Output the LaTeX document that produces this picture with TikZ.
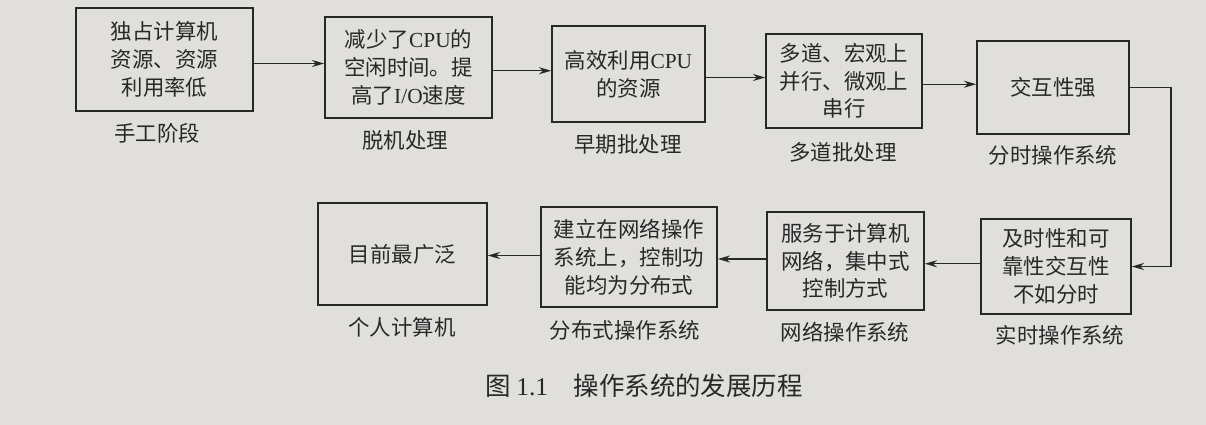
\documentclass[tikz,border=0pt]{standalone}
\usepackage{fontspec}
\setmainfont{Liberation Serif}
\newfontfamily\cjk{Noto Sans CJK SC}
\usepackage{tikz}
\usetikzlibrary{arrows.meta,calc}
\definecolor{paper}{RGB}{224,223,220}
\definecolor{ink}{RGB}{40,40,40}

\begin{document}
\begin{tikzpicture}[x=0.02cm,y=-0.02cm,
  every node/.style={font=\cjk\fontsize{12.2}{15.8}\selectfont,text=ink},
  box/.style={draw=ink,line width=0.9pt,align=center,inner sep=0pt},
  lab/.style={inner sep=0pt},
  arr/.style={draw=ink,line width=0.8pt,-{Stealth[length=7pt,width=4pt]}}]
\fill[paper] (0,0) rectangle (1206,425);
\useasboundingbox (0,0) rectangle (1206,425);
% upper row
\node[box,minimum width=3.54cm,minimum height=2.06cm] (b1) at (164.5,59.5) {独占计算机\\资源、资源\\利用率低};
\node[box,minimum width=3.34cm,minimum height=2.02cm] (b2) at (408.5,67.5) {减少了\textrm{CPU}的\\空闲时间。提\\高了\textrm{I/O}速度};
\node[box,minimum width=3.06cm,minimum height=1.92cm] (b3) at (628.5,74) {高效利用\textrm{CPU}\\的资源};
\node[box,minimum width=3.12cm,minimum height=1.88cm] (b4) at (844,81) {多道、宏观上\\并行、微观上\\串行};
\node[box,minimum width=3.04cm,minimum height=1.86cm] (b5) at (1053,87.5) {交互性强};
\node[lab] (l1) at (157,133) {手工阶段};
\node[lab] (l2) at (405,140) {脱机处理};
\node[lab] (l3) at (628,144) {早期批处理};
\node[lab] (l4) at (843,152) {多道批处理};
\node[lab] (l5) at (1053,155) {分时操作系统};
% lower row
\node[box,minimum width=3.00cm,minimum height=1.90cm] (b6) at (1056,266.5) {及时性和可\\靠性交互性\\不如分时};
\node[box,minimum width=3.14cm,minimum height=1.96cm] (b7) at (845.5,261) {服务于计算机\\网络，集中式\\控制方式};
\node[box,minimum width=3.52cm,minimum height=2.00cm] (b8) at (629,257) {建立在网络操作\\系统上，控制功\\能均为分布式};
\node[box,minimum width=3.38cm,minimum height=2.04cm] (b9) at (402.5,254) {目前最广泛};
\node[lab] (l6) at (1060,335) {实时操作系统};
\node[lab] (l7) at (845,332) {网络操作系统};
\node[lab] (l8) at (625,330) {分布式操作系统};
\node[lab] (l9) at (402,327) {个人计算机};
% arrows
\foreach \a/\b in {b1/b2,b2/b3,b3/b4,b4/b5}{
  \coordinate (m) at ($(\a)!0.5!(\b)$);
  \draw[arr] (\a.east |- m) -- (\b.west |- m);
}
\coordinate (turn) at (1171,0);
\draw[arr] (b5.east) -- (b5.east -| turn) -- (turn |- b6.east) -- (b6.east);
\foreach \a/\b in {b6/b7,b7/b8,b8/b9}{
  \coordinate (m) at ($(\a)!0.5!(\b)$);
  \draw[arr] (\a.west |- m) -- (\b.east |- m);
}
% caption
\node[lab,font=\cjk\fontsize{14.5}{17}\selectfont] (cap) at (644,386) {图 \textrm{1.1}\quad 操作系统的发展历程};
\end{tikzpicture}
\end{document}
